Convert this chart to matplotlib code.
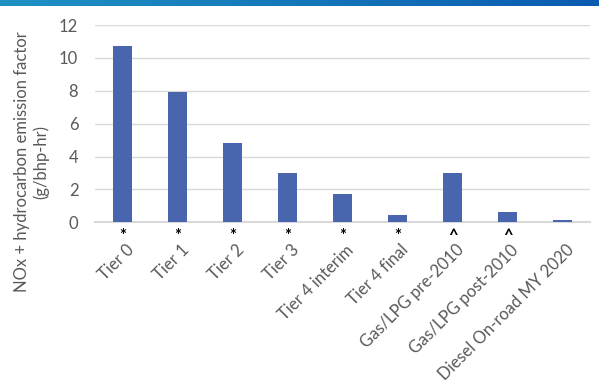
import matplotlib.pyplot as plt
import matplotlib.transforms as mtransforms
import numpy as np
from matplotlib.colors import LinearSegmentedColormap

plt.rcParams['font.family'] = ['Lato', 'DejaVu Sans']

categories = ['Tier 0', 'Tier 1', 'Tier 2', 'Tier 3', 'Tier 4 interim', 'Tier 4 final',
              'Gas/LPG pre-2010', 'Gas/LPG post-2010', 'Diesel On-road MY 2020']
values = [10.7, 7.9, 4.8, 3.0, 1.7, 0.45, 3.0, 0.6, 0.15]
marks = ['*', '*', '*', '*', '*', '*', '^', '^', '']
yticks = [0, 2, 4, 6, 8, 10, 12]

fig = plt.figure(figsize=(5.99, 3.83), dpi=100)

# slide header band
band = fig.add_axes([0, 1 - 6 / 383, 1, 6 / 383])
cmap = LinearSegmentedColormap.from_list('band', ['#1f92c3', '#0a5bb0'])
band.imshow(np.linspace(0, 1, 256).reshape(1, -1), aspect='auto', cmap=cmap)
band.axis('off')

ax = fig.add_axes([95 / 599, 1 - 222.3 / 383, 495 / 599, 197.3 / 383])
x = np.arange(len(categories))
ax.bar(x, values, width=0.33, color='#4865AD', zorder=3)
ax.set_xlim(-0.5, len(categories) - 0.5)
ax.set_ylim(0, 12)
ax.set_yticks(yticks)
ax.yaxis.grid(True, color='#d9d9d9', linewidth=1)
ax.set_axisbelow(True)
for s in ['top', 'right', 'left']:
    ax.spines[s].set_visible(False)
ax.spines['bottom'].set_color('#d9d9d9')
ax.spines['bottom'].set_linewidth(1.5)
ax.tick_params(axis='both', length=0, labelsize=12, colors='#595959')
ax.tick_params(axis='y', pad=12)
ax.set_xticks(x)
ax.set_xticklabels(categories, rotation=45, ha='right', va='top', rotation_mode='anchor')
ax.tick_params(axis='x', pad=14)
shift = mtransforms.ScaledTranslation(3 / 100, 0, fig.dpi_scale_trans)
for lab in ax.get_xticklabels():
    lab.set_transform(lab.get_transform() + shift)

for xi, m in zip(x, marks):
    if m:
        ax.annotate(m, (xi, 0), xytext=(0, -4), textcoords='offset points',
                    ha='center', va='top', fontsize=12, color='black', fontweight='bold')

fig.text(32 / 599, 1 - 162 / 383, 'NOx + hydrocarbon emission factor\n(g/bhp-hr)',
         rotation=90, ha='center', va='center', multialignment='center',
         fontsize=12, color='#595959')

fig.savefig('out.png', dpi=100)
